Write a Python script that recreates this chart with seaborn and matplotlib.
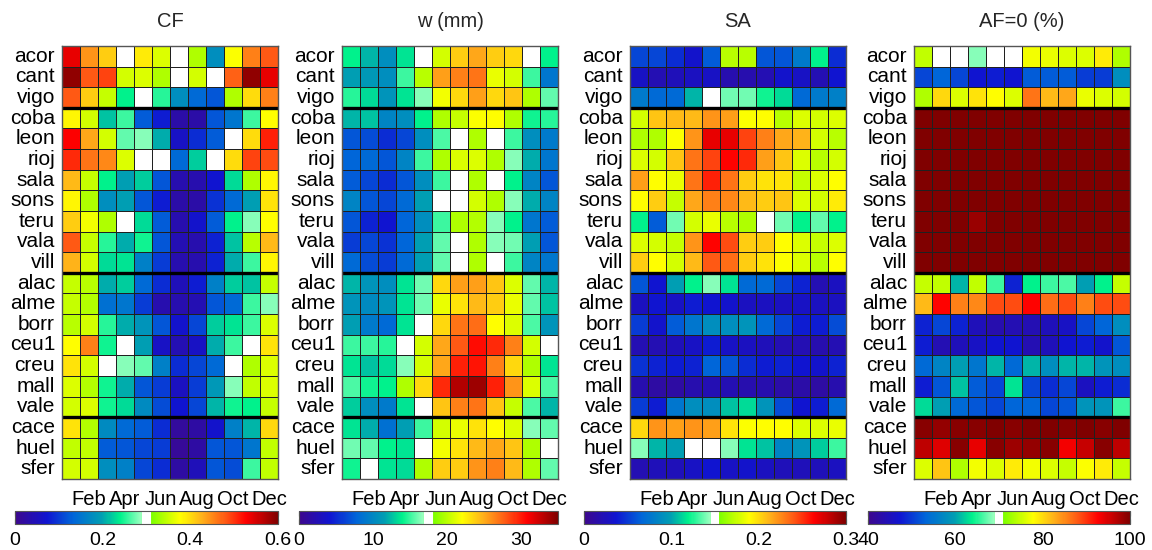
import numpy as np
import pandas as pd
import matplotlib
matplotlib.use("Agg")
import matplotlib.pyplot as plt
import seaborn as sns
from matplotlib.colors import LinearSegmentedColormap, ListedColormap

# ---------------- data ----------------
stations = ["acor", "cant", "vigo", "coba", "leon", "rioj", "sala", "sons", "teru",
            "vala", "vill", "alac", "alme", "borr", "ceu1", "creu", "mall", "vale",
            "cace", "huel", "sfer"]
months = ["Jan", "Feb", "Mar", "Apr", "May", "Jun", "Jul", "Aug", "Sep", "Oct", "Nov", "Dec"]
shown_months = ["Feb", "Apr", "Jun", "Aug", "Oct", "Dec"]
group_breaks = [3, 11, 18]

cf = [
    [0.54, 0.444, 0.408, 0.30, 0.39, 0.36, 0.30, 0.336, 0.18, 0.375, 0.456, 0.48],
    [0.59, 0.48, 0.49, 0.354, 0.36, 0.336, 0.30, 0.354, 0.30, 0.474, 0.59, 0.54],
    [0.48, 0.408, 0.348, 0.24, 0.30, 0.252, 0.18, 0.138, 0.12, 0.336, 0.40, 0.456],
    [0.384, 0.354, 0.216, 0.258, 0.126, 0.078, 0.03, 0.03, 0.12, 0.15, 0.258, 0.378],
    [0.528, 0.432, 0.354, 0.27, 0.282, 0.204, 0.06, 0.09, 0.126, 0.30, 0.40, 0.51],
    [0.504, 0.462, 0.45, 0.36, 0.30, 0.30, 0.138, 0.222, 0.30, 0.40, 0.49, 0.486],
    [0.42, 0.348, 0.24, 0.198, 0.222, 0.12, 0.036, 0.036, 0.072, 0.228, 0.336, 0.384],
    [0.384, 0.336, 0.18, 0.198, 0.12, 0.078, 0.03, 0.03, 0.096, 0.138, 0.198, 0.396],
    [0.408, 0.372, 0.336, 0.30, 0.228, 0.126, 0.036, 0.066, 0.126, 0.24, 0.282, 0.378],
    [0.48, 0.348, 0.252, 0.204, 0.246, 0.12, 0.042, 0.036, 0.084, 0.216, 0.342, 0.42],
    [0.426, 0.354, 0.228, 0.234, 0.162, 0.102, 0.036, 0.036, 0.084, 0.204, 0.258, 0.384],
    [0.348, 0.342, 0.204, 0.222, 0.138, 0.09, 0.048, 0.078, 0.162, 0.222, 0.216, 0.348],
    [0.348, 0.339, 0.144, 0.15, 0.102, 0.036, 0.036, 0.042, 0.12, 0.138, 0.258, 0.282],
    [0.342, 0.354, 0.252, 0.204, 0.186, 0.12, 0.066, 0.108, 0.222, 0.234, 0.258, 0.36],
    [0.378, 0.456, 0.246, 0.30, 0.198, 0.06, 0.042, 0.06, 0.204, 0.258, 0.30, 0.396],
    [0.396, 0.354, 0.30, 0.282, 0.27, 0.162, 0.09, 0.108, 0.138, 0.30, 0.336, 0.36],
    [0.36, 0.339, 0.246, 0.204, 0.12, 0.102, 0.054, 0.102, 0.192, 0.282, 0.345, 0.36],
    [0.354, 0.36, 0.246, 0.228, 0.174, 0.114, 0.072, 0.108, 0.21, 0.246, 0.24, 0.348],
    [0.396, 0.339, 0.174, 0.138, 0.126, 0.09, 0.018, 0.024, 0.066, 0.162, 0.21, 0.402],
    [0.345, 0.345, 0.126, 0.12, 0.108, 0.102, 0.012, 0.024, 0.12, 0.12, 0.15, 0.345],
    [0.354, 0.354, 0.18, 0.162, 0.108, 0.09, 0.024, 0.048, 0.12, 0.114, 0.258, 0.345],
]

w_mm = [
    [14.0, 12.25, 10.5, 13.65, 17.5, 20.65, 23.8, 25.2, 23.8, 23.45, 17.5, 14.0],
    [11.55, 11.2, 10.5, 15.05, 19.95, 25.55, 26.6, 26.95, 21.35, 20.65, 15.05, 8.75],
    [14.7, 13.3, 10.85, 13.65, 16.45, 21.7, 23.45, 25.55, 23.45, 24.15, 19.6, 15.75],
    [12.25, 12.6, 9.8, 10.5, 14.0, 19.6, 20.3, 21.9, 22.05, 19.6, 14.35, 14.7],
    [7.0, 6.65, 5.25, 6.3, 10.5, 15.4, 17.5, 19.6, 17.5, 15.05, 10.5, 9.1],
    [7.7, 8.05, 7.0, 9.8, 15.05, 19.6, 21.0, 21.0, 19.6, 16.45, 11.9, 8.75],
    [7.35, 6.3, 5.25, 7.0, 10.5, 15.05, 17.5, 19.6, 17.5, 14.0, 9.8, 7.0],
    [9.8, 7.0, 6.3, 8.05, 11.55, 17.5, 17.5, 20.65, 19.6, 16.45, 11.9, 9.8],
    [7.0, 4.9, 4.2, 7.7, 10.5, 15.05, 19.6, 19.8, 16.45, 14.0, 8.75, 7.35],
    [5.95, 6.3, 5.6, 7.7, 11.55, 15.75, 17.5, 19.6, 16.45, 16.1, 11.55, 7.0],
    [8.05, 6.65, 5.95, 8.05, 11.55, 15.75, 17.5, 19.6, 17.5, 15.05, 9.8, 8.75],
    [12.25, 10.85, 10.5, 13.65, 16.1, 23.45, 25.55, 25.55, 24.15, 21.0, 15.75, 12.25],
    [10.85, 10.15, 10.85, 13.65, 16.1, 21.35, 23.1, 24.5, 23.8, 21.35, 15.75, 12.6],
    [11.55, 9.1, 8.05, 13.65, 17.5, 23.45, 26.95, 27.3, 22.05, 21.0, 15.4, 10.85],
    [15.05, 15.05, 14.7, 17.5, 20.65, 25.2, 28.0, 30.45, 29.4, 26.6, 20.65, 17.5],
    [13.65, 12.6, 13.3, 16.45, 20.65, 25.2, 29.75, 30.1, 26.6, 23.45, 19.6, 13.65],
    [15.4, 14.35, 14.0, 19.6, 23.45, 29.4, 33.25, 33.95, 29.75, 25.9, 21.0, 15.4],
    [12.95, 10.5, 9.1, 13.65, 17.5, 24.15, 26.6, 26.95, 24.15, 20.3, 15.4, 12.25],
    [13.65, 11.9, 8.4, 11.55, 15.05, 20.65, 21.35, 23.1, 22.05, 21.0, 16.45, 15.75],
    [16.1, 15.75, 14.0, 13.65, 17.5, 21.7, 23.1, 24.5, 25.2, 24.15, 19.6, 17.5],
    [14.35, 17.5, 13.65, 13.3, 19.6, 23.8, 23.8, 25.9, 26.6, 24.5, 19.6, 15.75],
]

sa = [
    [0.054, 0.054, 0.045, 0.033, 0.063, 0.17, 0.17, 0.06, 0.06, 0.078, 0.12, 0.045],
    [0.03, 0.021, 0.024, 0.027, 0.03, 0.018, 0.018, 0.021, 0.033, 0.03, 0.021, 0.036],
    [0.078, 0.069, 0.069, 0.105, 0.15, 0.138, 0.138, 0.123, 0.114, 0.069, 0.078, 0.081],
    [0.177, 0.207, 0.21, 0.21, 0.222, 0.219, 0.1875, 0.189, 0.17, 0.18, 0.177, 0.18],
    [0.168, 0.168, 0.1875, 0.222, 0.27, 0.27, 0.246, 0.228, 0.216, 0.213, 0.177, 0.17],
    [0.18, 0.177, 0.207, 0.231, 0.246, 0.2625, 0.252, 0.219, 0.207, 0.18, 0.17, 0.177],
    [0.219, 0.189, 0.183, 0.231, 0.255, 0.231, 0.204, 0.198, 0.198, 0.174, 0.18, 0.189],
    [0.189, 0.204, 0.174, 0.216, 0.228, 0.225, 0.21, 0.204, 0.207, 0.18, 0.177, 0.195],
    [0.12, 0.063, 0.138, 0.177, 0.183, 0.17, 0.168, 0.15, 0.138, 0.12, 0.135, 0.12],
    [0.18, 0.177, 0.174, 0.222, 0.2625, 0.243, 0.204, 0.204, 0.189, 0.18, 0.174, 0.18],
    [0.204, 0.189, 0.177, 0.21, 0.24, 0.234, 0.204, 0.198, 0.1875, 0.18, 0.17, 0.189],
    [0.06, 0.036, 0.099, 0.12, 0.141, 0.117, 0.069, 0.069, 0.054, 0.042, 0.021, 0.027],
    [0.027, 0.036, 0.03, 0.039, 0.036, 0.033, 0.027, 0.027, 0.027, 0.03, 0.027, 0.027],
    [0.051, 0.033, 0.063, 0.075, 0.09, 0.09, 0.093, 0.069, 0.054, 0.039, 0.039, 0.057],
    [0.021, 0.021, 0.024, 0.03, 0.039, 0.03, 0.027, 0.024, 0.021, 0.021, 0.018, 0.021],
    [0.048, 0.042, 0.039, 0.042, 0.066, 0.06, 0.045, 0.039, 0.042, 0.036, 0.033, 0.042],
    [0.018, 0.012, 0.012, 0.018, 0.021, 0.021, 0.018, 0.018, 0.015, 0.015, 0.012, 0.018],
    [0.051, 0.039, 0.075, 0.09, 0.09, 0.108, 0.114, 0.093, 0.057, 0.036, 0.039, 0.069],
    [0.201, 0.222, 0.219, 0.222, 0.219, 0.198, 0.1875, 0.189, 0.189, 0.18, 0.18, 0.183],
    [0.141, 0.105, 0.099, 0.15, 0.15, 0.141, 0.117, 0.108, 0.084, 0.093, 0.111, 0.129],
    [0.021, 0.024, 0.024, 0.03, 0.036, 0.03, 0.033, 0.027, 0.024, 0.024, 0.024, 0.027],
]

af0 = [
    [74.5, 70, 70, 68.2, 70, 70, 77.2, 76.6, 76, 76, 79, 73.6],
    [50.8, 53.2, 50.8, 47.2, 47.8, 47.2, 52.6, 52.6, 52.6, 50.2, 50.2, 58],
    [73.6, 80.2, 76, 79.6, 77.8, 76, 86.2, 82, 83.2, 76.6, 76, 75.4],
    [100, 100, 100, 100, 100, 100, 100, 100, 100, 100, 100, 100],
    [100, 100, 100, 100, 100, 100, 100, 100, 100, 100, 100, 100],
    [100, 100, 100, 100, 100, 100, 100, 100, 100, 100, 100, 100],
    [100, 100, 100, 100, 100, 100, 100, 100, 100, 100, 100, 100],
    [100, 100, 100, 100, 100, 100, 100, 100, 100, 100, 100, 100],
    [100, 100, 100, 98.5, 100, 100, 100, 100, 100, 100, 100, 100],
    [100, 100, 100, 100, 100, 100, 100, 100, 100, 100, 100, 100],
    [100, 100, 100, 100, 100, 100, 100, 100, 100, 100, 100, 100],
    [74.8, 74.5, 61, 74.5, 65.8, 48.4, 64, 65.8, 66.4, 59.8, 64, 74.8],
    [82, 92.5, 85.6, 85, 88.6, 88.6, 92.5, 86.8, 88.6, 85.6, 88.6, 88.6],
    [48.4, 50.8, 48.4, 44.8, 43.6, 44.2, 44.2, 44.8, 46, 50.8, 53.2, 58],
    [47.8, 44.2, 44.8, 46, 47.2, 47.2, 44.2, 44.8, 47.2, 47.8, 46.6, 52],
    [53.8, 56.8, 59.8, 55, 61, 53.8, 61, 58, 61, 61, 58.6, 58],
    [47.8, 52, 61.6, 52.6, 50.8, 63.4, 50.8, 49, 50.8, 45.4, 47.8, 49],
    [62.8, 59.8, 53.8, 52, 50.8, 53.2, 53.2, 50.8, 52, 58.6, 58.6, 65.8],
    [99.4, 98.8, 99.4, 99.4, 100, 99.4, 100, 100, 99.4, 100, 99.4, 100],
    [96.4, 94.6, 99.4, 94, 99.4, 98.2, 98.8, 99.4, 93.4, 95.8, 99.4, 96.4],
    [76, 81.4, 73.6, 77.2, 76, 79, 77.2, 76, 74.8, 77.5, 79, 74.8],
]

titles = ["CF", "w (mm)", "SA", "AF=0 (%)"]
datasets = [cf, w_mm, sa, af0]
vmins = [0, 0, 0, 40]
vmaxs = [0.6, 35, 0.3, 100]
cb_ticks = [[0, 0.2, 0.4, 0.6], [0, 10, 20, 30], [0, 0.1, 0.2, 0.3], [40, 60, 80, 100]]
cb_labels = [["0", "0.2", "0.4", "0.6"], ["0", "10", "20", "30"],
             ["0", "0.1", "0.2", "0.3"], ["40", "60", "80", "100"]]

# ---------------- colormap (jet-like with white centre) ----------------
anchors = [
    (0.00, (0.24, 0.03, 0.55)),
    (0.12, (0.06, 0.08, 0.82)),
    (0.22, (0.00, 0.40, 0.85)),
    (0.33, (0.00, 0.62, 0.70)),
    (0.40, (0.00, 0.95, 0.55)),
    (0.48, (0.60, 1.00, 0.75)),
    (0.52, (0.50, 1.00, 0.00)),
    (0.63, (1.00, 1.00, 0.00)),
    (0.71, (1.00, 0.70, 0.10)),
    (0.80, (1.00, 0.35, 0.08)),
    (0.88, (1.00, 0.00, 0.00)),
    (1.00, (0.50, 0.00, 0.00)),
]
base = LinearSegmentedColormap.from_list("wjet", anchors)
tt = np.linspace(0, 1, 256)
cols = base(tt)
cols[(tt > 0.485) & (tt < 0.515)] = (1, 1, 1, 1)
cmap = ListedColormap(cols)

# ---------------- figure ----------------
sns.set_theme(style="white")
plt.rcParams["font.family"] = ["Liberation Sans", "DejaVu Sans"]

W, H = 1152, 550
fig = plt.figure(figsize=(W / 100, H / 100), dpi=100)

hm_left = [62, 342, 630, 914]
hm_w = 216
hm_top, hm_bot = 46, 479
cb_left = [15, 299, 584, 868]
cb_top, cb_bot = 511, 524

for k in range(4):
    ax = fig.add_axes([hm_left[k] / W, 1 - hm_bot / H, hm_w / W, (hm_bot - hm_top) / H])
    cb_right = hm_left[k] + hm_w
    cax = fig.add_axes([cb_left[k] / W, 1 - cb_bot / H, (cb_right - cb_left[k]) / W,
                        (cb_bot - cb_top) / H])
    df = pd.DataFrame(datasets[k], index=stations, columns=months)
    sns.heatmap(df, ax=ax, cmap=cmap, vmin=vmins[k], vmax=vmaxs[k],
                linewidths=0.7, linecolor="#202020",
                cbar=True, cbar_ax=cax, cbar_kws={"orientation": "horizontal"},
                xticklabels=True, yticklabels=True)
    for b in group_breaks:
        ax.axhline(b, color="black", lw=2.4)
    for s in ax.spines.values():
        s.set_visible(True)
        s.set_color("#555555")
        s.set_linewidth(1.0)
    ax.set_xticks([months.index(m) + 0.5 for m in shown_months])
    ax.set_xticklabels(shown_months, fontsize=14.5, rotation=0)
    ax.set_yticks(np.arange(len(stations)) + 0.5)
    ax.set_yticklabels(stations, fontsize=15, rotation=0)
    ax.tick_params(axis="both", length=0, colors="black")
    ax.tick_params(axis="x", pad=8)
    ax.tick_params(axis="y", pad=5)
    ax.set_xlabel("")
    ax.set_ylabel("")
    ax.set_title(titles[k], fontsize=14.5, pad=14)

    cax.set_xticks(cb_ticks[k])
    cax.set_xticklabels(cb_labels[k], fontsize=14)
    cax.tick_params(axis="x", which="both", direction="in", top=True, bottom=True,
                    length=3.5, width=0.8, color="black", pad=6, labelcolor="black")
    cax.tick_params(axis="y", length=0)
    cb = ax.collections[0].colorbar
    cb.outline.set_edgecolor("#555555")
    cb.outline.set_linewidth(0.8)

fig.savefig("out.png", dpi=100)
